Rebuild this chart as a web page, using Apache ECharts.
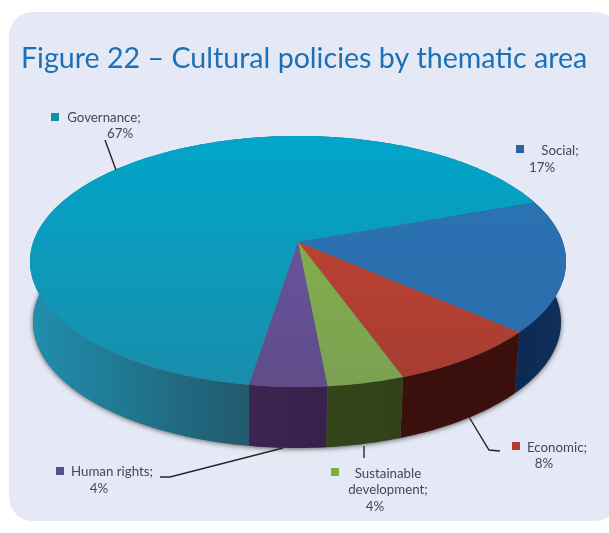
<!DOCTYPE html>
<html>
<head>
<meta charset="utf-8">
<style>html,body{margin:0;padding:0;background:#fff}#chart{width:609px;height:533px}</style>
<script src="https://cdn.jsdelivr.net/npm/echarts@6/dist/echarts.min.js"></script>
</head>
<body>
<div id="chart"></div>
<script>
// Thematic shares of cultural policies, percent
const categories = ['Governance', 'Social', 'Economic', 'Sustainable\ndevelopment', 'Human rights'];
const shares = [67, 17, 8, 4, 4];

// Disc projection: a circle seen in perspective, tilted towards the viewer
const tilt = 0.155;
const topDisc = { cx: 298, cy: 242, a: 264.8, b: 122.5 };
const baseDisc = { cx: 297, cy: 302.4, a: 260.8, b: 123 };
const startDeg = 99;

function project(disc, deg) {
  const r = deg * Math.PI / 180, u = Math.cos(r), v = Math.sin(r), w = 1 - tilt * v;
  return [disc.cx + disc.a * u / w, disc.cy + disc.b * v / w];
}
function arc(disc, from, to) {
  const pts = [], n = Math.max(2, Math.ceil(to - from));
  for (let i = 0; i <= n; i++) pts.push(project(disc, from + (to - from) * i / n));
  return pts;
}

const total = shares.reduce((s, v) => s + v, 0);
const sliceRange = i => {
  const before = shares.slice(0, i).reduce((s, v) => s + v, 0);
  return [startDeg + before / total * 360, startDeg + (before + shares[i]) / total * 360];
};

const vGrad = (a, b) => ({ type: 'linear', x: 0, y: 136, x2: 0, y2: 388, global: true,
  colorStops: [{ offset: 0, color: a }, { offset: 1, color: b }] });
const hGrad = (x, x2, a, b) => ({ type: 'linear', x: x, y: 0, x2: x2, y2: 0, global: true,
  colorStops: [{ offset: 0, color: a }, { offset: 1, color: b }] });

const topFills = [
  vGrad('#00a6ca', '#1a8dab'),
  vGrad('#2a74b4', '#2c6cab'),
  vGrad('#cb462e', '#a53c34'),
  vGrad('#86b846', '#7aa152'),
  vGrad('#6d58ac', '#5f4c88')
];
const wallFills = [
  hGrad(30, 244, '#1f8fae', '#225a6e'),
  hGrad(520, 565, '#0b2a55', '#10305a'),
  hGrad(403, 523, '#3a100c', '#3c0f0c'),
  hGrad(324, 403, '#34451a', '#324218'),
  hGrad(244, 324, '#3c2552', '#38224c')
];
const markColors = ['#108fa9', '#2a62a4', '#b23a34', '#7fae45', '#5a4c8e'];

// Label line centres, swatch corners and leader polylines for each slice
const labelSpots = [
  { lines: [[104, 118], [120, 134]], swatch: [51, 113], leader: [[105, 140], [116, 170]] },
  { lines: [[560, 151], [542, 168]], swatch: [516, 145], leader: null },
  { lines: [[557, 448], [544, 464]], swatch: [512, 442], leader: [[469, 417], [489, 450], [500, 451]] },
  { lines: [[388, 474], [388, 490], [375, 507]], swatch: [331, 468], leader: [[364, 446], [364, 458]] },
  { lines: [[112, 472], [99, 489]], swatch: [56, 467], leader: [[160, 477], [170, 477], [283, 448]] }
];

function renderWall(params) {
  const i = params.dataIndex, [from, to] = sliceRange(i);
  const children = [];
  if (i === 0) {
    // soft cast shadow under the whole disc
    children.push({ type: 'polygon', shape: { points: arc(baseDisc, 0, 360) },
      style: { fill: '#6d6d70', shadowBlur: 5, shadowColor: 'rgba(50,50,50,0.75)', shadowOffsetX: 0, shadowOffsetY: 1 } });
  }
  const top = arc(topDisc, from, to), base = arc(baseDisc, from, to).reverse();
  children.push({ type: 'polygon', shape: { points: top.concat(base) }, style: { fill: wallFills[i] } });
  return { type: 'group', children };
}

function renderTop(params) {
  const i = params.dataIndex, [from, to] = sliceRange(i);
  const pts = [[topDisc.cx, topDisc.cy]].concat(arc(topDisc, from, to));
  return { type: 'polygon', shape: { points: pts }, style: { fill: topFills[i] } };
}

function renderLabel(params, api) {
  const i = params.dataIndex, spot = labelSpots[i];
  const texts = (categories[i] + ';').split('\n').concat(api.value(0) + '%');
  const children = texts.map((t, k) => ({
    type: 'text',
    style: { text: t, x: spot.lines[k][0], y: spot.lines[k][1], align: 'center', verticalAlign: 'middle',
      font: '13.3px Lato, sans-serif', fill: '#43475a' }
  }));
  children.push({ type: 'rect', shape: { x: spot.swatch[0], y: spot.swatch[1], width: 8, height: 8 },
    style: { fill: markColors[i] } });
  if (spot.leader) {
    children.push({ type: 'polyline', shape: { points: spot.leader },
      style: { fill: 'none', stroke: '#24242c', lineWidth: 1.4 } });
  }
  return { type: 'group', children };
}

const seriesData = shares.map((v, i) => ({ name: categories[i], value: v }));
const customSeries = (fn, z) => ({
  type: 'custom', coordinateSystem: 'none', renderItem: fn, data: seriesData, z, silent: true, clip: false
});

const chart = echarts.init(document.getElementById('chart'), null, { renderer: 'canvas' });
chart.setOption({
  animation: false,
  backgroundColor: '#ffffff',
  title: {
    text: 'Figure 22 – Cultural policies by thematic area',
    left: 21, top: 44, padding: 0,
    textStyle: { fontFamily: 'Lato', fontWeight: 'normal', fontSize: 28.6, color: '#1b70b8' }
  },
  graphic: [{
    type: 'rect', z: -10, silent: true,
    shape: { x: 9, y: 12, width: 610, height: 509, r: 24 },
    style: { fill: '#e5e9f5' }
  }],
  series: [
    customSeries(renderWall, 2),
    customSeries(renderTop, 3),
    customSeries(renderLabel, 4)
  ]
});
</script>
</body>
</html>
